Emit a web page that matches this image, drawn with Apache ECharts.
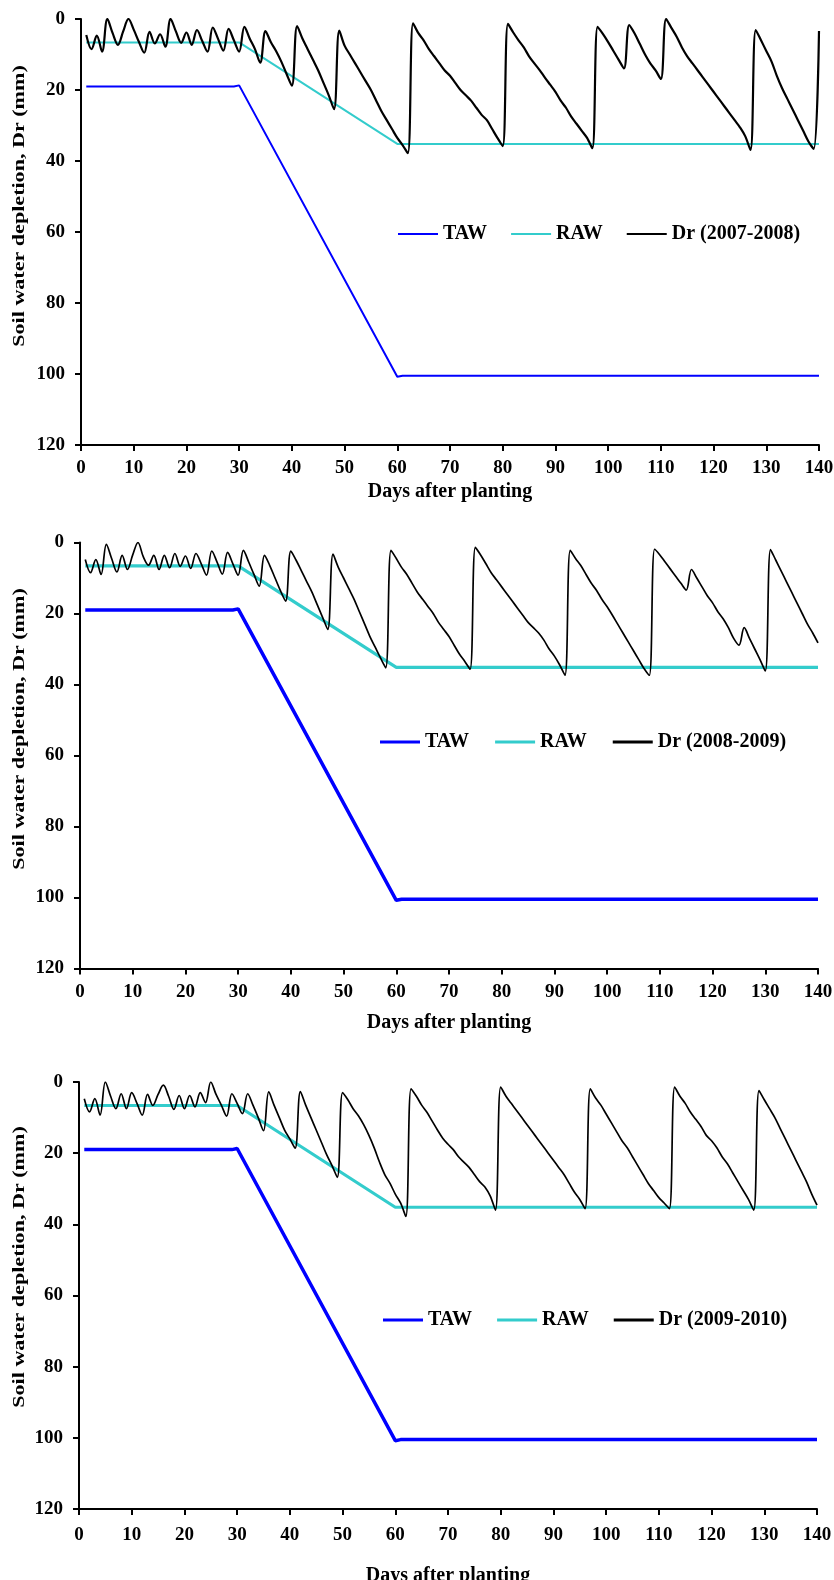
<!DOCTYPE html>
<html>
<head>
<meta charset="utf-8">
<script src="https://cdn.jsdelivr.net/npm/echarts@6/dist/echarts.min.js"></script>
<style>
html,body{margin:0;padding:0;background:#fff;}
#chart{width:834px;height:1580px;}
</style>
</head>
<body>
<div id="chart"></div>
<script>
// ---- data ----
const xTicks = [0,10,20,30,40,50,60,70,80,90,100,110,120,130,140];
const yTicks = [0,20,40,60,80,100,120];
const days = Array.from({length:140}, (_, i) => i + 1);

const tawDays = [1, 29, 30, 60, 61, 140];
const taw     = [19, 19, 18.7, 100.8, 100.5, 100.5];
const rawDays = [1, 30, 60, 140];
const raw     = [6.6, 6.6, 35.2, 35.2];

const dr0708 = [
 4.5,8.5,4.7,9.2,0,4,7.3,3.5,0,3,
 6.5,9.5,3.6,6.9,4.3,7.8,0,3.5,6.7,3.8,
 7.3,3.1,6.2,9.2,2.4,5.6,8.9,2.8,6,9.2,
 2.2,5.5,8.5,12.3,3.4,6.5,9,12,15.5,18.8,
 2,5.5,8.5,11.5,14.5,18,21.5,25.4,3.3,7.5,
 10,12.5,15,17.5,20,23,26,28.5,31,33.5,
 35.5,37.8,1.2,4,6,8.5,10.5,12.5,14.5,16,
 18,20,21.5,23,25,27,28.5,31,33.5,35.8,
 1.4,3.8,6,8,10.5,12.5,14.4,16.5,18.5,20.5,
 23,25,27.5,29.5,31.5,33.5,36.4,2.2,4.2,6.5,
 9,11.5,13.9,1.7,4,7,10,12.5,14.5,16.9,
 0,2.5,5,8,10.5,12.5,14.5,16.5,18.5,20.5,
 22.5,24.5,26.5,28.5,30.5,33,36.9,3.1,6,9,
 12,16,19.5,22.5,25.5,28.5,31.5,34.5,36.6,3.4
];
const dr0809 = [
 4.8,8.5,4.8,9,0.5,4.5,8.3,3.6,7.6,3.5,
 0,4,6.4,3.6,7.6,3.6,7.1,3.1,6.7,3.8,
 7.3,3.1,6,9.2,2.4,5.5,8.9,2.8,6,9.2,
 2.2,5.5,9,12.3,3.6,6.5,10,13.5,16.5,2.4,
 5,8,11,14,17.5,21,24.5,3.3,7,10,
 13,16,19.5,23,26.5,29.5,32.5,35.3,2.2,4.5,
 7,9,11.5,14,16,18,20,22.5,24.5,26.5,
 29,31.5,33.5,35.7,1.4,3.5,6,8.5,10.5,12.5,
 14.5,16.5,18.5,20.5,22.5,24,25.5,27.5,30,32,
 34.5,37.4,2.2,4.5,6.5,9,11.5,13.5,16,18.1,
 20.5,23,25.5,28,30.5,33,35.5,37.4,1.9,3.5,
 5.5,7.5,9.5,11.5,13.4,7.6,10,12.5,15,17,
 19.5,21.5,24,27,28.9,24,27,30,33,36.2,
 2,5,8,11,14,17,20,23,25.5,28.3
];
const dr0910 = [
 4.7,8.4,4.7,9.3,0,4,7.5,3.3,7.5,3,
 6,9.3,3.5,6.6,3.5,0.9,4,7.7,3.8,7.5,
 3.8,7,3,5.8,0,3.5,6.5,9.6,3.3,6,
 8.9,3.3,6.5,10,13.7,2.8,6.5,10,13.5,16,
 18.6,2.7,6.5,10,13.5,17,20.5,23.5,26.8,3,
 5,7.5,9.5,12,15,18.5,22.5,26,28.5,31.5,
 34,37.8,1.9,4,6.5,8.5,11,13.5,15.8,17.5,
 19,21,22.5,24,26,28,29.5,32,36,1.4,
 4,6,8,10,12,14,16,18,20,22,
 24,26,28.5,31,33,35.6,1.9,4.5,6.5,9,
 11.5,14,16.5,18.5,21,23.5,26,28.5,30.5,32.5,
 34,35.6,1.4,4,6,8.5,10.5,12.5,15,16.5,
 18.5,21,23,25.5,28,30.5,33,36,2.4,5,
 7.5,10,13,16,19,22,25,28,31.5,34.6
];

const panels = [
  {dr: dr0708, name: 'Dr (2007-2008)', top: 19, left: 81, height: 426, tawW: 2, rawW: 2, drW: 2.2, legH: 2,
   legLeft: 398, legTop: 224, legGap: 24, labMargin: 14, nameGap: 37, titleY: 206},
  {dr: dr0809, name: 'Dr (2008-2009)', top: 542.5, left: 80, height: 426, tawW: 3.5, rawW: 3.2, drW: 1.7, legH: 3,
   legLeft: 380, legTop: 732, legGap: 26, labMargin: 14, nameGap: 44, titleY: 729},
  {dr: dr0910, name: 'Dr (2009-2010)', top: 1082, left: 79, height: 427, tawW: 3.5, rawW: 3.2, drW: 1.7, legH: 3,
   legLeft: 383, legTop: 1310, legGap: 25, labMargin: 17, nameGap: 57, titleY: 1267}
];

const FONT = '"Liberation Serif", "Times New Roman", serif';
const grids = [], xAxes = [], yAxes = [], series = [], legends = [], graphics = [];

panels.forEach((p, k) => {
  grids.push({left: p.left, top: p.top, width: 738, height: p.height, containLabel: false, outerBoundsMode: 'none'});
  xAxes.push({
    type: 'value', gridIndex: k, min: xTicks[0], max: xTicks[xTicks.length-1], interval: xTicks[1]-xTicks[0],
    axisLine: {show: true, onZero: false, lineStyle: {color: '#000', width: 2}},
    axisTick: {show: true, inside: false, length: 6, lineStyle: {color: '#000', width: 2}},
    splitLine: {show: false},
    axisLabel: {color: '#000', fontFamily: FONT, fontWeight: 'bold', fontSize: 19, margin: p.labMargin},
    name: 'Days after planting', nameLocation: 'middle', nameGap: p.nameGap,
    nameTextStyle: {color: '#000', fontFamily: FONT, fontWeight: 'bold', fontSize: 20}
  });
  yAxes.push({
    type: 'value', gridIndex: k, inverse: true, min: yTicks[0], max: yTicks[yTicks.length-1], interval: yTicks[1]-yTicks[0],
    axisLine: {show: true, onZero: false, lineStyle: {color: '#000', width: 2}},
    axisTick: {show: true, inside: false, length: 6, lineStyle: {color: '#000', width: 2}},
    splitLine: {show: false},
    axisLabel: {color: '#000', fontFamily: FONT, fontWeight: 'bold', fontSize: 19, margin: 16}
  });
  series.push({
    type: 'line', name: 'TAW', xAxisIndex: k, yAxisIndex: k, symbol: 'none',
    data: tawDays.map((d, i) => [d, taw[i]]),
    lineStyle: {color: '#0000FF', width: p.tawW}, itemStyle: {color: '#0000FF'}, z: 2
  });
  series.push({
    type: 'line', name: 'RAW', xAxisIndex: k, yAxisIndex: k, symbol: 'none',
    data: rawDays.map((d, i) => [d, raw[i]]),
    lineStyle: {color: '#33CCCC', width: p.rawW}, itemStyle: {color: '#33CCCC'}, z: 2
  });
  series.push({
    type: 'line', name: p.name, xAxisIndex: k, yAxisIndex: k, symbol: 'none', smooth: 0.35,
    data: days.map((d, i) => [d, p.dr[i]]),
    lineStyle: {color: '#000', width: p.drW}, itemStyle: {color: '#000'}, z: 3
  });
  legends.push({
    left: p.legLeft, top: p.legTop, padding: 0, itemGap: p.legGap, itemWidth: 40, itemHeight: p.legH,
    icon: 'rect', selectedMode: false, orient: 'horizontal',
    textStyle: {color: '#000', fontFamily: FONT, fontWeight: 'bold', fontSize: 20},
    data: [
      {name: 'TAW', itemStyle: {color: '#0000FF'}},
      {name: 'RAW', itemStyle: {color: '#33CCCC'}},
      {name: p.name, itemStyle: {color: '#000'}}
    ]
  });
  graphics.push({
    type: 'text', x: 19.5, y: p.titleY, rotation: Math.PI / 2, scaleX: 1.38,
    style: {text: 'Soil water depletion, Dr (mm)', fill: '#000', font: 'bold 16px ' + FONT,
            textAlign: 'center', textVerticalAlign: 'middle'}
  });
});

const chart = echarts.init(document.getElementById('chart'), null, {renderer: 'canvas'});
chart.setOption({
  animation: false,
  backgroundColor: '#fff',
  grid: grids, xAxis: xAxes, yAxis: yAxes, series: series, legend: legends, graphic: graphics
});
</script>
</body>
</html>
